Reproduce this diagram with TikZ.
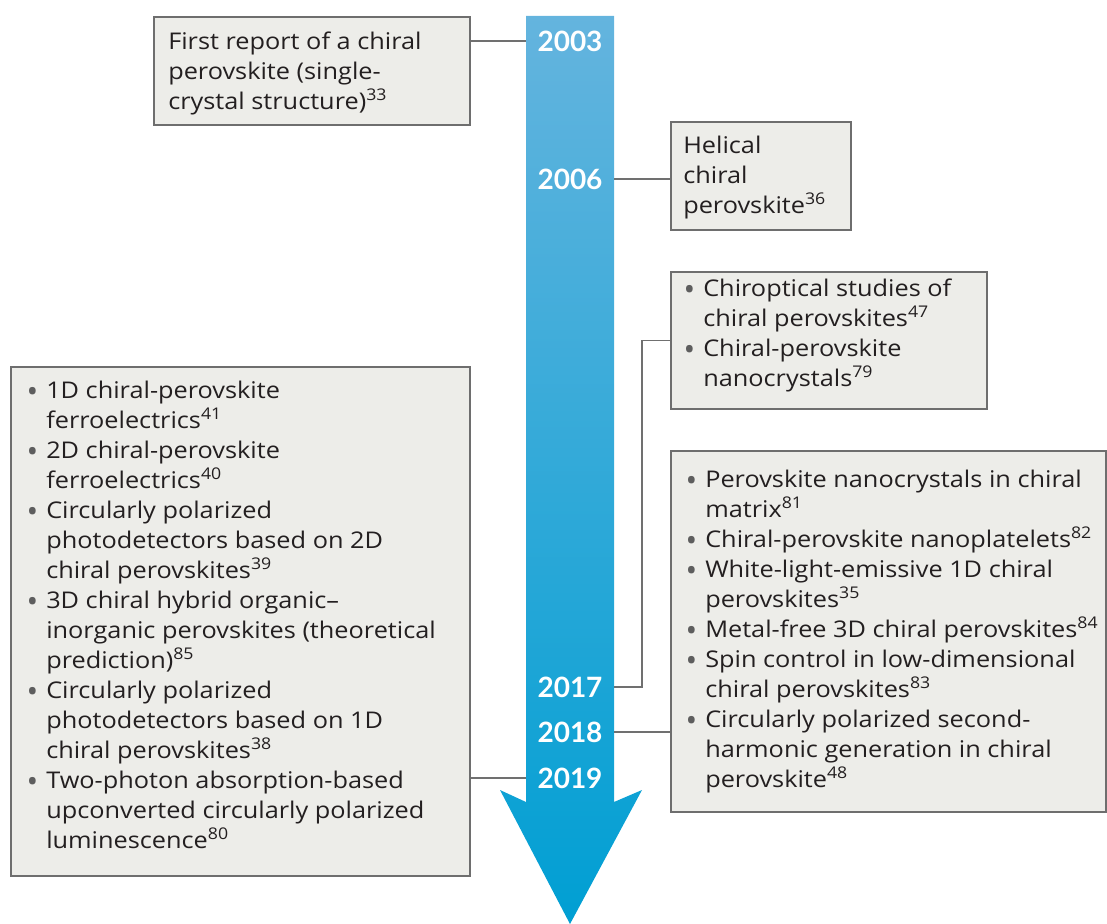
\documentclass[tikz,border=0pt]{standalone}
\usepackage{fontspec}
\setmainfont{Open Sans}[FakeStretch=1.1]
\newfontfamily\yearfont{Lato}
\newfontfamily\bulfont{Open Sans}
\usetikzlibrary{fit}
\definecolor{boxfill}{HTML}{EDEDE9}
\definecolor{boxline}{HTML}{6E6E6E}
\definecolor{linegrey}{HTML}{707070}
\definecolor{txt}{HTML}{231F20}
\definecolor{bulgrey}{HTML}{5E5E5E}
\definecolor{arrtop}{HTML}{64B4DE}
\definecolor{arrbot}{HTML}{009FD3}
\newcommand{\bitem}{\makebox[14.25pt][l]{\hspace*{-0.5pt}\color{bulgrey}\raisebox{-0.2em}{\scalebox{1.35}{\bulfont •}}}}
\newcommand{\hind}{\hspace*{14.25pt}}
\newcommand{\sr}[1]{\textsuperscript{#1}}
\begin{document}
\begin{tikzpicture}[x=0.75pt,y=-0.75pt,
  box/.style={draw=boxline, fill=boxfill, line width=1.1pt, inner sep=0pt},
  boxtext/.style={anchor=north west, inner sep=0pt, align=left, text=txt, font=\fontsize{17.25}{22.5}\selectfont},
  year/.style={text=white, font=\yearfont\fontsize{21}{24}\selectfont\bfseries, inner sep=0pt},
  conn/.style={draw=linegrey, line width=0.8pt}]
\useasboundingbox (0,0) rectangle (1107,924);
% timeline arrow
\shade[top color=arrtop, bottom color=arrbot] (526,16) -- (614,16) -- (614,802) -- (642,790) -- (570,924) -- (500,790) -- (526,802) -- cycle;
\coordinate (shaftL) at (526,16);
\coordinate (shaftR) at (614,16);
\coordinate (kink) at (642,16);
% years
\node[year] (y2003) at (570,41) {2003};
\node[year] (y2006) at (570,179) {2006};
\node[year] (y2017) at (570,687) {2017};
\node[year] (y2018) at (570,732) {2018};
\node[year] (y2019) at (570,778) {2019};
% boxes
\node[box, fit={(154,17) (470,125)}] (b1) {};
\node[box, fit={(671,122) (851,230)}] (b2) {};
\node[box, fit={(671,272) (987,409)}] (b3) {};
\node[box, fit={(11,367) (470,876)}] (b4) {};
\node[box, fit={(671,451) (1106,812)}] (b5) {};
% connectors
\draw[conn] (b1.east |- y2003) -- (shaftL |- y2003);
\draw[conn] (shaftR |- y2006) -- (b2.west |- y2006);
\draw[conn] (b3.west) -- (kink |- b3.west) -- (kink |- y2017) -- (shaftR |- y2017);
\draw[conn] (shaftR |- y2018) -- (b5.west |- y2018);
\draw[conn] (b4.east |- y2019) -- (shaftL |- y2019);
% texts
\node[boxtext] (t1) at (168,28) {\strut First report of a chiral\\perovskite (single-\\crystal structure)\sr{33}};
\node[boxtext] (t2) at (683,132) {\strut Helical\\chiral\\perovskite\sr{36}};
\node[boxtext] (t3) at (684,275) {\strut\bitem Chiroptical studies of\\
\hind chiral perovskites\sr{47}\\
\bitem Chiral-perovskite\\
\hind nanocrystals\sr{79}};
\node[boxtext] (t4) at (27,377) {\strut\bitem 1D chiral-perovskite\\
\hind ferroelectrics\sr{41}\\
\bitem 2D chiral-perovskite\\
\hind ferroelectrics\sr{40}\\
\bitem Circularly polarized\\
\hind photodetectors based on 2D\\
\hind chiral perovskites\sr{39}\\
\bitem 3D chiral hybrid organic–\\
\hind inorganic perovskites (theoretical\\
\hind prediction)\sr{85}\\
\bitem Circularly polarized\\
\hind photodetectors based on 1D\\
\hind chiral perovskites\sr{38}\\
\bitem Two-photon absorption-based\\
\hind upconverted circularly polarized\\
\hind luminescence\sr{80}};
\node[boxtext] (t5) at (686,466) {\strut\bitem Perovskite nanocrystals in chiral\\
\hind matrix\sr{81}\\
\bitem Chiral-perovskite nanoplatelets\sr{82}\\
\bitem White-light-emissive 1D chiral\\
\hind perovskites\sr{35}\\
\bitem Metal-free 3D chiral perovskites\sr{84}\\
\bitem Spin control in low-dimensional\\
\hind chiral perovskites\sr{83}\\
\bitem Circularly polarized second-\\
\hind harmonic generation in chiral\\
\hind perovskite\sr{48}};
\end{tikzpicture}
\end{document}
